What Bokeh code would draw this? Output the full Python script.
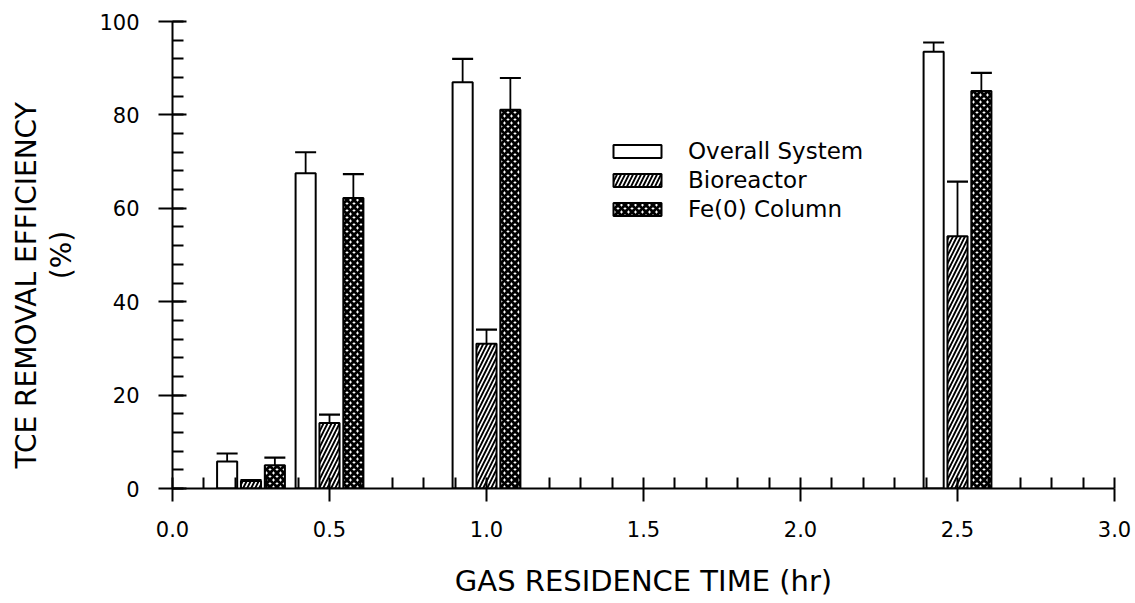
import numpy as np
from bokeh.plotting import figure
from bokeh.models import (ColumnDataSource, Range1d, SingleIntervalTicker, PrintfTickFormatter,
                          Legend, LegendItem, Whisker, TeeHead, Title)
from bokeh.transform import dodge
from bokeh.embed import file_html
from bokeh.resources import INLINE

# ---- data ----
residence_time = [0.25, 0.5, 1.0, 2.5]
overall = [5.8, 67.5, 87.0, 93.5]
overall_err = [1.7, 4.5, 5.0, 2.0]
bioreactor = [1.6, 14.0, 31.0, 54.0]
bioreactor_err = [0.2, 1.8, 3.0, 11.7]
fe_column = [5.0, 62.2, 81.1, 85.1]
fe_column_err = [1.6, 5.1, 6.8, 3.9]

series_names = ["Overall System", "Bioreactor", "Fe(0) Column"]

FONT = "DejaVu Sans"

src = ColumnDataSource(dict(
    x=residence_time,
    overall=overall, overall_up=[v + e for v, e in zip(overall, overall_err)],
    bio=bioreactor, bio_up=[v + e for v, e in zip(bioreactor, bioreactor_err)],
    fe=fe_column, fe_up=[v + e for v, e in zip(fe_column, fe_column_err)],
))

p = figure(width=1133, height=600, output_backend="svg", toolbar_location=None,
           x_range=Range1d(0, 3), y_range=Range1d(0, 100),
           min_border_left=172, min_border_right=19, min_border_top=21, min_border_bottom=110)
p.outline_line_color = None
p.xgrid.visible = False
p.ygrid.visible = False

BW = 0.064
off = 0.076

r_overall = p.vbar(x=dodge("x", -off, range=p.x_range), top="overall", width=BW, source=src,
                   fill_color="white", line_color="black", line_width=2)
r_bio = p.vbar(x=dodge("x", 0.0, range=p.x_range), top="bio", width=BW, source=src,
               fill_color="white", line_color="black", line_width=2,
               hatch_pattern="/", hatch_color="black", hatch_weight=1.9, hatch_scale=8)
r_fe = p.vbar(x=dodge("x", off, range=p.x_range), top="fe", width=BW, source=src,
              fill_color="white", line_color="black", line_width=2,
              hatch_pattern="x", hatch_color="black", hatch_weight=3.0, hatch_scale=7)

for col, d in [("overall", -off), ("bio", 0.0), ("fe", off)]:
    w = Whisker(base=dodge("x", d, range=p.x_range), lower=col, upper=col + "_up", source=src,
                dimension="height", line_color="black", line_width=1.8,
                lower_head=None,
                upper_head=TeeHead(size=21, line_color="black", line_width=2.2))
    p.add_layout(w)

# axes
p.xaxis.ticker = SingleIntervalTicker(interval=0.5, num_minor_ticks=5)
p.yaxis.ticker = SingleIntervalTicker(interval=20, num_minor_ticks=5)
p.xaxis.formatter = PrintfTickFormatter(format="%.1f")
p.yaxis.formatter = PrintfTickFormatter(format="%d")

for ax in (p.xaxis, p.yaxis):
    ax.axis_line_width = 2
    ax.major_tick_line_width = 2
    ax.minor_tick_line_width = 2
    ax.axis_line_color = "black"
    ax.major_tick_line_color = "black"
    ax.minor_tick_line_color = "black"
    ax.major_label_text_font = FONT
    ax.major_label_text_font_size = "21px"
    ax.major_label_text_color = "black"
    ax.axis_label_text_font = FONT
    ax.axis_label_text_font_style = "normal"
    ax.axis_label_text_color = "black"

p.xaxis.major_tick_out = 13
p.xaxis.major_tick_in = 0
p.xaxis.minor_tick_in = 11
p.xaxis.minor_tick_out = 0
p.xaxis.major_label_standoff = 19
p.xaxis.axis_label = "GAS RESIDENCE TIME (hr)"
p.xaxis.axis_label_text_font_size = "29px"
p.xaxis.axis_label_standoff = 24

p.yaxis.major_tick_out = 14
p.yaxis.major_tick_in = 14
p.yaxis.minor_tick_in = 11
p.yaxis.minor_tick_out = 0
p.yaxis.major_label_standoff = 19
p.yaxis.axis_label = "(%)"
p.yaxis.axis_label_text_font_size = "28px"
p.yaxis.axis_label_standoff = 18

# first line of the y-axis label (side title)
t_main = Title(text="TCE REMOVAL EFFICIENCY", align="left", offset=20, vertical_align="bottom", standoff=0,
               text_font=FONT, text_font_size="28px", text_font_style="normal", text_color="black")
p.add_layout(t_main, "left")

legend = Legend(items=[LegendItem(label=series_names[0], renderers=[r_overall]),
                       LegendItem(label=series_names[1], renderers=[r_bio]),
                       LegendItem(label=series_names[2], renderers=[r_fe])],
                location=(435, 266))
legend.glyph_width = 60
legend.glyph_height = 16
legend.label_standoff = 21
legend.spacing = 3
legend.padding = 0
legend.margin = 0
legend.border_line_alpha = 0
legend.background_fill_alpha = 0
legend.label_text_font = FONT
legend.label_text_font_size = "23px"
legend.label_text_color = "black"
p.add_layout(legend, "center")

open("out.html", "w").write(file_html(p, INLINE))
